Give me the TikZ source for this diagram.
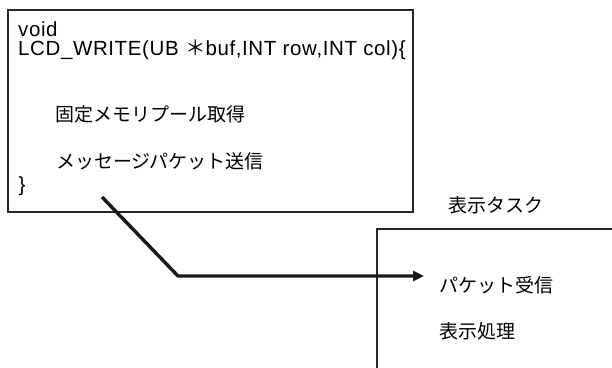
\documentclass[tikz,border=0pt]{standalone}
\usepackage{fontspec}
\setmainfont{Liberation Sans}
\newfontfamily\codefont{Liberation Sans}[LetterSpace=3]
\newfontfamily\jp{Noto Sans CJK JP}
\usetikzlibrary{arrows.meta}
\tikzset{
  box/.style={draw=black!85, line width=1.3pt},
  code/.style={inner sep=0pt, font=\fontsize{20.5}{20}\selectfont\codefont},
  jtxt/.style={inner sep=0pt, font=\fontsize{19}{20}\selectfont\jp},
  flow/.style={line width=3.4pt, black!90, -{Triangle[length=11pt,width=10pt]}}
}
\begin{document}
\begin{tikzpicture}[x=1pt,y=-1pt]
\useasboundingbox (0,0) rectangle (612,367);
% boxes
\draw[box] (8,10) rectangle (413,212);
\draw[box] (620,229) -- (377,229) -- (377,372);
% code text
\node[code, anchor=base west] (v) at (18,36.5) {void};
\node[code, anchor=base west] (lcd) at (18,55) {LCD\_WRITE(UB {\jp ＊}buf,INT row,INT col)\{};
\node[jtxt, anchor=west] (mem) at (55,114) {固定メモリプール取得};
\node[jtxt, anchor=west] (msg) at (56,161) {メッセージパケット送信};
\node[code, anchor=center] (br) at (22,186) {\}};
% task side
\node[jtxt, anchor=center] (task) at (496,205) {表示タスク};
\node[jtxt, anchor=west] (pk) at (439,285) {パケット受信};
\node[jtxt, anchor=west] (disp) at (439,331) {表示処理};
% arrow
\coordinate (s) at (102,197);
\coordinate (b) at (178,276);
\coordinate (t) at (424,276);
\draw[flow] (s) -- (b) -- (t);
\end{tikzpicture}
\end{document}
